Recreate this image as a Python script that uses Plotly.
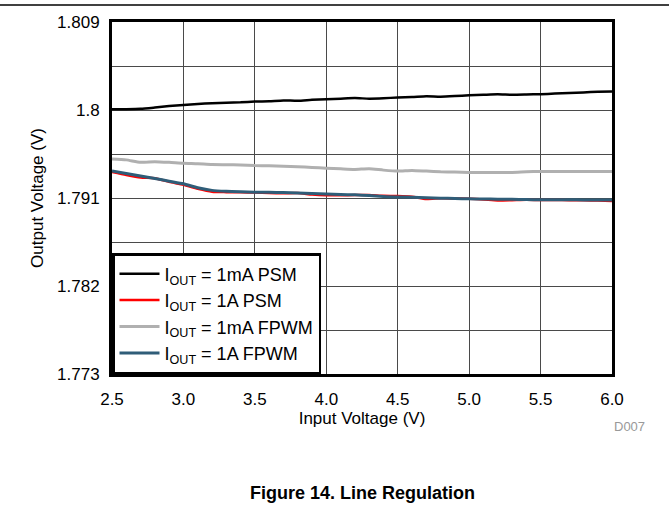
import plotly.graph_objects as go

vin = [2.5, 2.6, 2.7, 2.8, 2.9, 3.0, 3.1, 3.2, 3.3, 3.4, 3.5, 3.6, 3.7, 3.8, 3.9,
       4.0, 4.1, 4.2, 4.3, 4.4, 4.5, 4.6, 4.7, 4.8, 4.9, 5.0, 5.1, 5.2, 5.3, 5.4,
       5.5, 5.6, 5.7, 5.8, 5.9, 6.0]

psm_1ma = [1.80007, 1.80008, 1.80012, 1.80025, 1.80040, 1.80052, 1.80062, 1.80070,
           1.80074, 1.80078, 1.80086, 1.80090, 1.80098, 1.80094, 1.80104, 1.80110,
           1.80116, 1.80122, 1.80116, 1.80120, 1.80128, 1.80132, 1.80140, 1.80136,
           1.80142, 1.80150, 1.80155, 1.80160, 1.80155, 1.80158, 1.80162, 1.80168,
           1.80175, 1.80180, 1.80186, 1.80190]

psm_1a = [1.79365, 1.79335, 1.79310, 1.79302, 1.79265, 1.79235, 1.79195, 1.79165,
          1.79160, 1.79158, 1.79155, 1.79150, 1.79148, 1.79150, 1.79135, 1.79128,
          1.79128, 1.79130, 1.79130, 1.79122, 1.79120, 1.79112, 1.79090, 1.79098,
          1.79095, 1.79092, 1.79085, 1.79075, 1.79078, 1.79082, 1.79080, 1.79080,
          1.79078, 1.79076, 1.79074, 1.79070]

fpwm_1ma = [1.79500, 1.79490, 1.79465, 1.79472, 1.79465, 1.79455, 1.79450, 1.79442,
            1.79440, 1.79438, 1.79432, 1.79430, 1.79425, 1.79420, 1.79412, 1.79405,
            1.79398, 1.79392, 1.79400, 1.79385, 1.79375, 1.79382, 1.79375, 1.79368,
            1.79365, 1.79362, 1.79362, 1.79362, 1.79362, 1.79368, 1.79372, 1.79372,
            1.79372, 1.79372, 1.79372, 1.79372]

fpwm_1a = [1.79376, 1.79350, 1.79325, 1.79300, 1.79272, 1.79245, 1.79205, 1.79178,
           1.79168, 1.79163, 1.79160, 1.79158, 1.79155, 1.79150, 1.79145, 1.79140,
           1.79136, 1.79132, 1.79125, 1.79115, 1.79110, 1.79108, 1.79102, 1.79098,
           1.79095, 1.79092, 1.79090, 1.79088, 1.79086, 1.79084, 1.79082, 1.79082,
           1.79082, 1.79080, 1.79080, 1.79080]

y_ticks = [1.773, 1.782, 1.791, 1.8, 1.809]
y_ticktext = ["1.773", "1.782", "1.791", "1.8", "1.809"]
y_minor = [1.7775, 1.7865, 1.7955, 1.8045]
x_ticks = [2.5, 3.0, 3.5, 4.0, 4.5, 5.0, 5.5, 6.0]

FONT = "Liberation Sans, Arial, sans-serif"

fig = go.Figure()
series = [
    ("I<sub>OUT</sub> = 1mA PSM", psm_1ma, "#000000", 2.5),
    ("I<sub>OUT</sub> = 1A PSM", psm_1a, "#FF0000", 2.5),
    ("I<sub>OUT</sub> = 1mA FPWM", fpwm_1ma, "#B0B0B0", 3),
    ("I<sub>OUT</sub> = 1A FPWM", fpwm_1a, "#2F5D78", 3),
]
for name, ys, col, w in series:
    fig.add_trace(go.Scatter(x=vin, y=ys, mode="lines", name=name,
                             line=dict(color=col, width=w, shape="spline", smoothing=0.6)))

fig.update_layout(
    width=669, height=523,
    margin=dict(l=112, r=57, t=22, b=149),
    paper_bgcolor="white", plot_bgcolor="white",
    font=dict(family=FONT, size=17, color="#000"),
    showlegend=True,
    legend=dict(x=0, y=0, xanchor="left", yanchor="bottom",
                bgcolor="white", bordercolor="#000", borderwidth=2.5,
                font=dict(size=18), tracegroupgap=0, itemwidth=40),
    xaxis=dict(range=[2.5, 6.0], tickvals=x_ticks, tickformat=".1f",
               showgrid=True, gridcolor="#4a4a4a", gridwidth=1.3,
               showline=True, linecolor="#000", linewidth=3, mirror=True,
               zeroline=False, ticks="", ticklabelstandoff=8,
               title=dict(text="Input Voltage (V)", standoff=4, font=dict(size=17))),
    yaxis=dict(range=[1.773, 1.809], tickvals=y_ticks, ticktext=y_ticktext,
               showgrid=True, gridcolor="#4a4a4a", gridwidth=1.3,
               minor=dict(tickvals=y_minor, showgrid=True, gridcolor="#4a4a4a", gridwidth=1.3),
               showline=True, linecolor="#000", linewidth=3, mirror=True,
               zeroline=False, ticks="", ticklabelstandoff=6,
               title=dict(text="Output Voltage (V)", standoff=10, font=dict(size=17))),
)

fig.add_shape(type="line", xref="paper", yref="paper",
              x0=-0.224, x1=1.114, y0=1.048, y1=1.048,
              line=dict(color="#000", width=1.5))

fig.add_annotation(text="D007", xref="paper", yref="paper", x=1.07, y=-0.15,
                   xanchor="right", yanchor="middle", showarrow=False,
                   font=dict(size=13, color="#999", family=FONT))
fig.add_annotation(text="<b>Figure 14. Line Regulation</b>", xref="paper", yref="paper",
                   x=0.5, y=-0.338, xanchor="center", yanchor="middle", showarrow=False,
                   font=dict(size=18, color="#000", family=FONT))

fig.write_html("out.html", config={"displayModeBar": False},
               post_script="document.body.style.margin='0';")
